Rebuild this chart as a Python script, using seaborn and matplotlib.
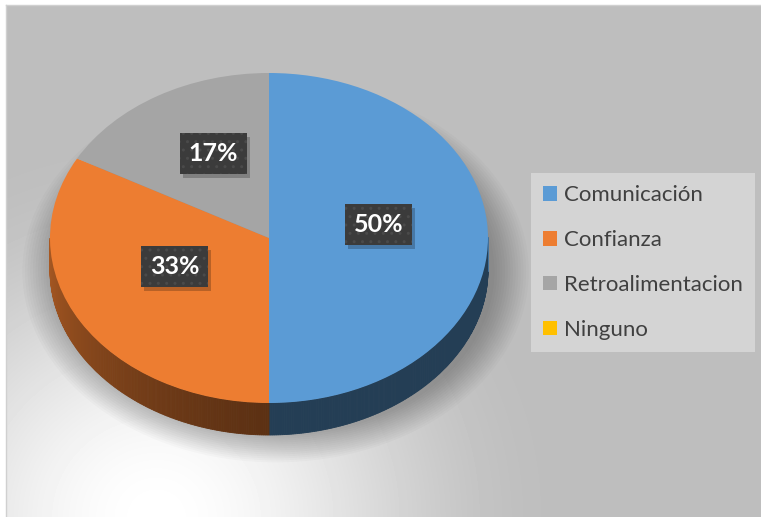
import numpy as np
import matplotlib
matplotlib.use("Agg")
import matplotlib.pyplot as plt
import seaborn as sns
from matplotlib.patches import Polygon, Ellipse, Rectangle
from matplotlib.colors import to_rgb

categories = ["Comunicación", "Confianza", "Retroalimentacion", "Ninguno"]
shares = [50, 33, 17, 0]
pct_labels = ["50%", "33%", "17%", ""]
colors = ["#5B9BD5", "#ED7D31", "#A5A5A5", "#FFC000"]

sns.set_theme(style="white")
plt.rcParams["font.family"] = ["Lato", "DejaVu Sans"]

W, H = 761, 517
fig = plt.figure(figsize=(W / 100, H / 100), dpi=100)
fig.patch.set_facecolor("white")

# --- background: gray plate fading to white towards the lower left ---
bg = fig.add_axes([6 / W, 0, 1 - 6 / W, 512 / H])
yy, xx = np.mgrid[0:512, 0:755]
dist = np.hypot(xx - 150, (yy - 512) * 1.05)
t = np.clip(dist / 400, 0, 1)
t = t * t * (3 - 2 * t)
shade = 1.0 - 0.255 * t
bg.imshow(shade, cmap="gray", vmin=0, vmax=1, aspect="auto", interpolation="bilinear")
bg.set_xticks([]); bg.set_yticks([])
for side, sp in bg.spines.items():
    sp.set_visible(side in ("top", "left"))
    sp.set_color("#D0D0D0")
    sp.set_linewidth(1)

# --- pie axes: unit circle squashed into an ellipse ---
rx, ry = 219, 165          # semi-axes in pixels
cx, cy = 269, 238          # centre in pixels from top-left
xl, yl = (-1.2, 1.2), (-1.45, 1.2)
ax = fig.add_axes([(cx + xl[0] * rx) / W, (H - cy + yl[0] * ry) / H,
                   (xl[1] - xl[0]) * rx / W, (yl[1] - yl[0]) * ry / H])
ax.patch.set_alpha(0)

depth = 32 / ry

wedges, _ = ax.pie(shares, colors=colors, startangle=90, counterclock=False,
                   radius=1, wedgeprops=dict(linewidth=0))
ax.set_aspect("auto")
ax.set_xlim(xl); ax.set_ylim(yl)
ax.axis("off")
for w in wedges:
    w.set_zorder(4)

# soft drop shadow under the cylinder
for k in range(14):
    g = 1.0 + 0.012 * k
    ax.add_patch(Ellipse((0.03, -depth - 0.01), 2 * g, 2 * g, facecolor="black",
                         alpha=0.018, linewidth=0, zorder=1))


def side_factor(a):
    a = a % 360
    if a < 270:
        return 0.39 + 0.33 * np.clip((270 - a) / 90, 0, 1) ** 1.3
    return 0.40


# cylinder wall for the front half of the pie
for w, col in zip(wedges, colors):
    t1, t2 = w.theta1, w.theta2
    if t2 - t1 <= 0:
        continue
    angs = np.linspace(t1, t2, int(np.ceil(t2 - t1)) * 2 + 2)
    base = np.array(to_rgb(col))
    for a0, a1 in zip(angs[:-1], angs[1:]):
        am = np.radians((a0 + a1) / 2)
        if np.sin(am) > 0:
            continue
        r0, r1 = np.radians(a0), np.radians(a1)
        quad = [(np.cos(r0), np.sin(r0)), (np.cos(r1), np.sin(r1)),
                (np.cos(r1), np.sin(r1) - depth), (np.cos(r0), np.sin(r0) - depth)]
        c = np.clip(base * side_factor((a0 + a1) / 2), 0, 1)
        ax.add_patch(Polygon(quad, closed=True, facecolor=c, edgecolor=c,
                             linewidth=0.6, zorder=3))

# percentage call-outs
callouts = []
for w, lab in zip(wedges, pct_labels):
    if not lab:
        continue
    mid = np.radians((w.theta1 + w.theta2) / 2)
    x, y = 0.5 * np.cos(mid), 0.5 * np.sin(mid)
    txt = ax.annotate(lab, xy=(x, y), xytext=(0, 9.5), textcoords="offset points",
                      ha="center", va="center", fontsize=18, fontweight="bold", color="white",
                      bbox=dict(boxstyle="square,pad=0.36", facecolor="#3B3B3B",
                                edgecolor="#4A4A4A", linewidth=0, hatch=".."), zorder=6)
    callouts.append(txt)

# small drop shadow behind each call-out box
fig.canvas.draw()
inv = ax.transData.inverted()
for txt in callouts:
    bb = txt.get_bbox_patch().get_window_extent()
    (x0, y0), (x1, y1) = inv.transform([(bb.x0 + 3, bb.y0 - 4), (bb.x1 + 3, bb.y1 - 4)])
    ax.add_patch(Rectangle((x0, y0), x1 - x0, y1 - y0, facecolor="black", alpha=0.22,
                           linewidth=0, zorder=5))

# legend
leg = fig.legend(wedges, categories, loc="center",
                 bbox_to_anchor=((531 + 755) / 2 / W, 1 - (172 + 353) / 2 / H),
                 fontsize=16, frameon=True, fancybox=False,
                 handlelength=0.63, handleheight=0.63, handletextpad=0.3,
                 labelspacing=1.12, borderpad=0.55, labelcolor="#404040")
fr = leg.get_frame()
fr.set_facecolor("#D4D4D4")
fr.set_edgecolor("none")
fr.set_alpha(1)

fig.savefig("out.png", dpi=100, facecolor=fig.get_facecolor())
